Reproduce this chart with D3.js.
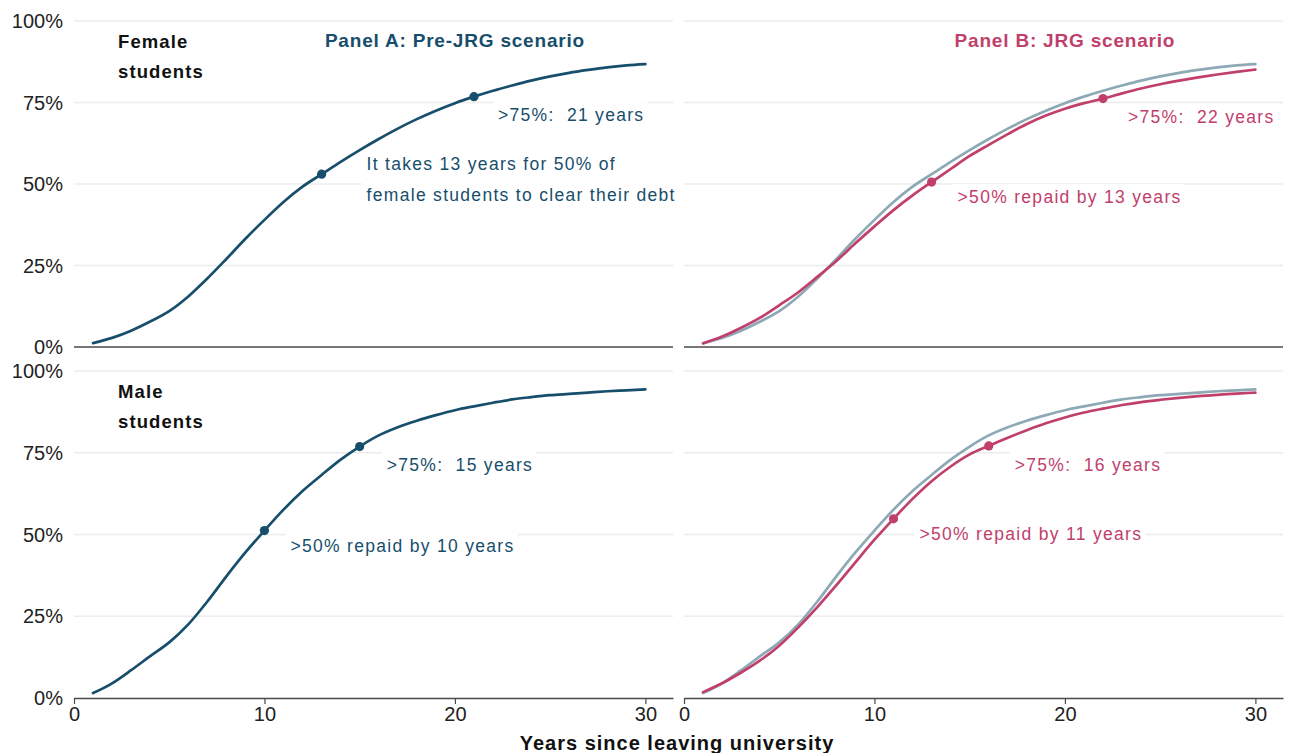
<!DOCTYPE html>
<html>
<head>
<meta charset="utf-8">
<script src="https://cdn.jsdelivr.net/npm/d3@7"></script>
<style>
  html, body { margin: 0; padding: 0; background: #fff; }
  svg { display: block; font-family: "Liberation Sans", Arial, sans-serif; }
  svg text { white-space: pre; }
</style>
</head>
<body>
<svg id="chart" width="1293" height="753"></svg>
<script>
// Years since leaving university
const years = [1,2,3,4,5,6,7,8,9,10,11,12,13,14,15,16,17,18,19,20,21,22,23,24,25,26,27,28,29,30];

// Cumulative share of borrowers who have cleared their debt (%)
const femalePreJrg = [1.2,2.8,5.0,7.8,11.0,15.5,21.0,27.0,33.2,39.0,44.5,49.2,53.0,56.8,60.4,63.8,67.0,69.9,72.5,74.8,76.8,78.6,80.2,81.7,83.0,84.1,85.0,85.8,86.4,86.8];
const femaleJrg    = [1.1,3.2,5.9,9.0,12.8,16.8,21.5,26.4,31.8,37.0,42.0,46.5,50.6,54.6,58.6,62.0,65.3,68.4,71.0,73.1,74.8,76.2,77.8,79.3,80.6,81.7,82.7,83.6,84.4,85.1];
const malePreJrg   = [1.5,4.5,8.5,12.8,17.0,22.5,29.5,37.2,44.5,51.2,57.6,63.3,68.2,72.9,76.9,80.3,82.8,84.8,86.5,88.0,89.2,90.3,91.3,92.0,92.6,93.0,93.4,93.8,94.1,94.4];
const maleJrg      = [1.8,4.5,7.8,11.5,16.0,21.6,27.8,34.5,41.5,48.4,54.8,60.9,66.3,70.8,74.5,77.1,79.6,81.9,84.0,85.8,87.3,88.5,89.6,90.5,91.2,91.8,92.3,92.7,93.1,93.4];

const yTicks = [0, 25, 50, 75, 100];
const yTickLabels = ["0%", "25%", "50%", "75%", "100%"];
const xTicks = [0, 10, 20, 30];
const xTickLabels = ["0", "10", "20", "30"];

const panelTitles = ["Panel A: Pre-JRG scenario", "Panel B: JRG scenario"];
const rowLabels = [["Female", "students"], ["Male", "students"]];
const xAxisTitle = "Years since leaving university";

// Milestone markers: year and the text drawn beside them
const femalePreMarks = [{ year: 13, text: ["It takes 13 years for 50% of", "female students to clear their debt"] }, { year: 21, text: [">75%:  21 years"] }];
const femaleJrgMarks = [{ year: 13, text: [">50% repaid by 13 years"] }, { year: 22, text: [">75%:  22 years"] }];
const malePreMarks   = [{ year: 10, text: [">50% repaid by 10 years"] }, { year: 15, text: [">75%:  15 years"] }];
const maleJrgMarks   = [{ year: 11, text: [">50% repaid by 11 years"] }, { year: 16, text: [">75%:  16 years"] }];

// ---- styling / layout ----
const TEAL = "#174e6c", PINK = "#c0406b", GREY = "#8ea9b6";
const svg = d3.select("#chart");

const cols = [{ x0: 74, x1: 673 }, { x0: 684, x1: 1283 }];
const rows = [{ y0: 21, y1: 347 }, { y0: 371, y1: 698 }];
const xMax = 31.45;

// label offsets from each marker: [dx, dy of first baseline]
const labelOffsets = {
  fp: [[45, -4], [24, 24]],
  fj: [[26, 21], [25, 24]],
  mp: [[26, 21], [27, 24]],
  mj: [[26, 21], [26, 25]]
};

function series(vals) { return years.map((y, i) => ({ year: y, v: vals[i] })); }

const panels = [
  { c: 0, r: 0, lines: [{ data: femalePreJrg, color: TEAL, marks: femalePreMarks, off: labelOffsets.fp }] },
  { c: 1, r: 0, lines: [{ data: femalePreJrg, color: GREY }, { data: femaleJrg, color: PINK, marks: femaleJrgMarks, off: labelOffsets.fj }] },
  { c: 0, r: 1, lines: [{ data: malePreJrg, color: TEAL, marks: malePreMarks, off: labelOffsets.mp }] },
  { c: 1, r: 1, lines: [{ data: malePreJrg, color: GREY }, { data: maleJrg, color: PINK, marks: maleJrgMarks, off: labelOffsets.mj }] }
];

panels.forEach(p => {
  const col = cols[p.c], row = rows[p.r];
  const x = d3.scaleLinear().domain([0, xMax]).range([col.x0, col.x1]);
  const y = d3.scaleLinear().domain([0, 100]).range([row.y1, row.y0]);
  const g = svg.append("g");

  // horizontal gridlines
  g.selectAll("line.grid").data(yTicks.filter(t => t > 0)).join("line")
    .attr("x1", col.x0).attr("x2", col.x1)
    .attr("y1", d => y(d)).attr("y2", d => y(d))
    .attr("stroke", "#ececec").attr("stroke-width", 1.4);

  // y tick labels on the left-hand column
  if (p.c === 0) {
    g.selectAll("text.yt").data(yTicks).join("text")
      .attr("x", col.x0 - 11).attr("y", d => y(d)).attr("dy", "0.36em")
      .attr("text-anchor", "end").attr("font-size", 20).attr("fill", "#222")
      .text((d, i) => yTickLabels[i]);
  }

  // baseline / x axis
  if (p.r === 0) {
    g.append("line").attr("x1", col.x0).attr("x2", col.x1)
      .attr("y1", y(0)).attr("y2", y(0)).attr("stroke", "#4a4a4a").attr("stroke-width", 1.5);
  } else {
    const axis = d3.axisBottom(x).tickValues(xTicks).tickFormat((d, i) => xTickLabels[i]).tickSize(6).tickSizeOuter(0);
    const ax = g.append("g").attr("transform", `translate(0,${y(0)})`).call(axis);
    ax.select(".domain").attr("stroke", "#4a4a4a").attr("stroke-width", 1.5);
    ax.selectAll(".tick line").attr("stroke", "#4a4a4a").attr("stroke-width", 1.2);
    ax.selectAll(".tick text").attr("font-size", 20).attr("fill", "#222")
      .attr("font-family", "Liberation Sans, Arial, sans-serif").attr("y", 9);
  }

  // label backgrounds + text (white boxes interrupt gridlines)
  const labelLayer = g.append("g");
  const lineLayer = g.append("g");
  const line = d3.line().x(d => x(d.year)).y(d => y(d.v)).curve(d3.curveMonotoneX);

  p.lines.forEach(s => {
    lineLayer.append("path").datum(series(s.data))
      .attr("d", line).attr("fill", "none")
      .attr("stroke", s.color).attr("stroke-width", 2.7)
      .attr("stroke-linejoin", "round").attr("stroke-linecap", "round");
  });

  p.lines.filter(s => s.marks).forEach(s => {
    s.marks.forEach((m, mi) => {
      const v = s.data[years.indexOf(m.year)];
      const cx = x(m.year), cy = y(v);
      lineLayer.append("circle").attr("cx", cx).attr("cy", cy).attr("r", 4.6).attr("fill", s.color);
      const [dx, dy] = s.off[mi];
      const t = labelLayer.append("text").attr("font-size", 17.5)
        .attr("letter-spacing", 1.3).attr("fill", s.color);
      m.text.forEach((ln, li) => {
        t.append("tspan").attr("x", cx + dx).attr("y", cy + dy + li * 31).text(ln);
      });
      const bb = t.node().getBBox();
      labelLayer.insert("rect", "text")
        .attr("x", bb.x - 5).attr("y", bb.y - 3)
        .attr("width", bb.width + 8).attr("height", bb.height + 6)
        .attr("fill", "#fff");
    });
  });
});

// panel titles above each column
const xTitle0 = d3.scaleLinear().domain([0, xMax]).range([cols[0].x0, cols[0].x1]);
const xTitle1 = d3.scaleLinear().domain([0, xMax]).range([cols[1].x0, cols[1].x1]);
svg.append("text").attr("x", xTitle0(20)).attr("y", 47).attr("text-anchor", "middle")
  .attr("font-size", 19).attr("letter-spacing", 0.8).attr("font-weight", "bold").attr("fill", TEAL).text(panelTitles[0]);
svg.append("text").attr("x", xTitle1(20)).attr("y", 47).attr("text-anchor", "middle")
  .attr("font-size", 19).attr("letter-spacing", 0.8).attr("font-weight", "bold").attr("fill", PINK).text(panelTitles[1]);

// row labels
rowLabels.forEach((lbl, i) => {
  const t = svg.append("text").attr("font-size", 18.5).attr("letter-spacing", 1.1)
    .attr("font-weight", "bold").attr("fill", "#111");
  lbl.forEach((ln, li) => t.append("tspan").attr("x", 118).attr("y", rows[i].y0 + 27 + li * 30).text(ln));
});

// shared x-axis title
svg.append("text").attr("x", 677).attr("y", 750).attr("text-anchor", "middle")
  .attr("font-size", 20).attr("letter-spacing", 1.0).attr("font-weight", "bold").attr("fill", "#111").text(xAxisTitle);
</script>
</body>
</html>
